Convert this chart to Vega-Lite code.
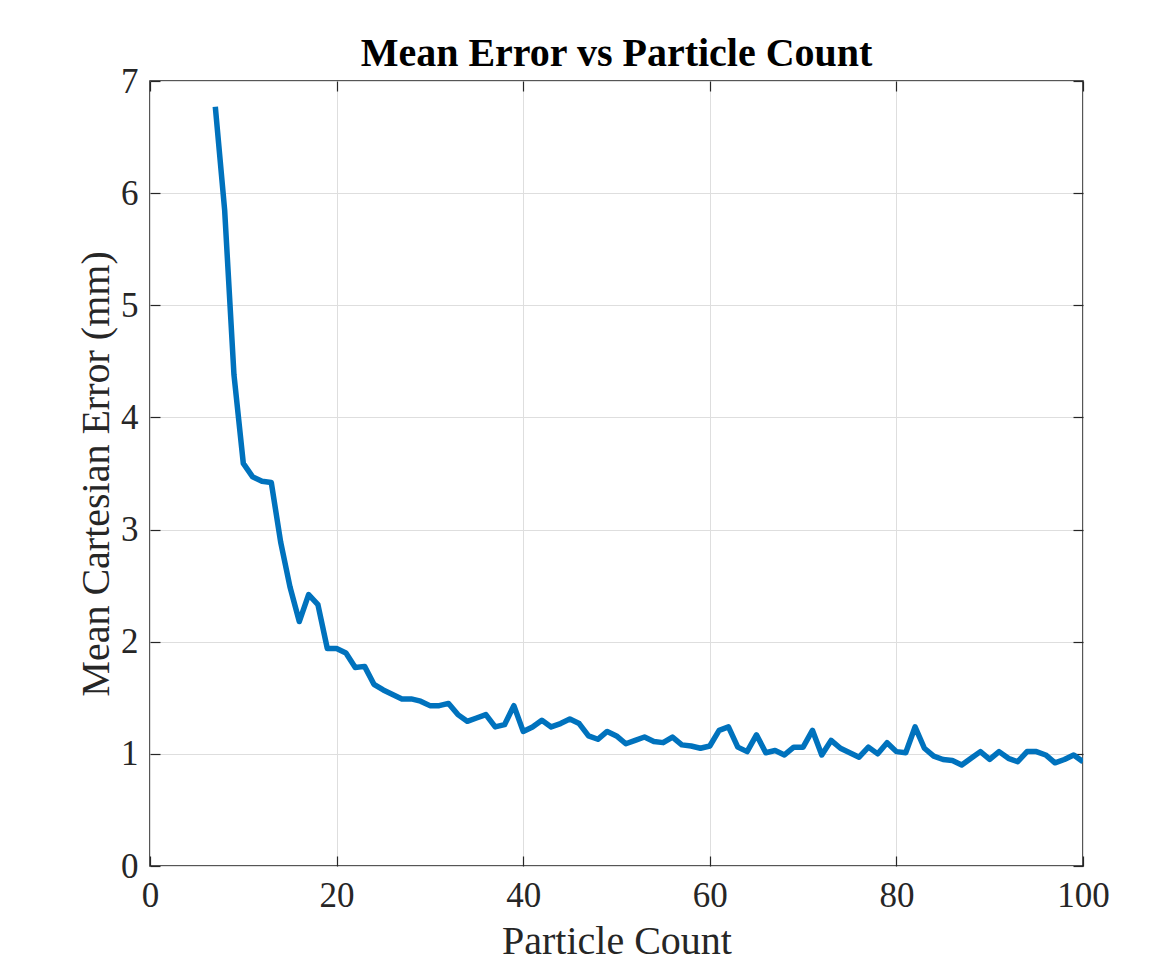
{
  "$schema": "https://vega.github.io/schema/vega-lite/v6.json",
  "autosize": {"type": "none"},
  "padding": {"left": 150, "top": 81, "right": 71, "bottom": 92},
  "width": 933,
  "height": 785,
  "background": "#ffffff",
  "config": {
    "view": {"stroke": "#1f1f1f", "strokeWidth": 1.5},
    "font": "Liberation Serif"
  },
  "title": {
    "text": "Mean Error vs Particle Count",
    "font": "Liberation Serif",
    "fontSize": 40,
    "fontWeight": "bold",
    "color": "#000000",
    "anchor": "middle",
    "offset": -10
  },
  "data": {
    "values": [
      {"count": 7, "error": 6.77}, {"count": 8, "error": 5.85}, {"count": 9, "error": 4.38},
      {"count": 10, "error": 3.59}, {"count": 11, "error": 3.47}, {"count": 12, "error": 3.43},
      {"count": 13, "error": 3.42}, {"count": 14, "error": 2.89}, {"count": 15, "error": 2.49},
      {"count": 16, "error": 2.18}, {"count": 17, "error": 2.42}, {"count": 18, "error": 2.33},
      {"count": 19, "error": 1.94}, {"count": 20, "error": 1.94}, {"count": 21, "error": 1.90},
      {"count": 22, "error": 1.77}, {"count": 23, "error": 1.78}, {"count": 24, "error": 1.62},
      {"count": 25, "error": 1.57}, {"count": 26, "error": 1.53}, {"count": 27, "error": 1.49},
      {"count": 28, "error": 1.49}, {"count": 29, "error": 1.47}, {"count": 30, "error": 1.43},
      {"count": 31, "error": 1.43}, {"count": 32, "error": 1.45}, {"count": 33, "error": 1.35},
      {"count": 34, "error": 1.29}, {"count": 35, "error": 1.32}, {"count": 36, "error": 1.35},
      {"count": 37, "error": 1.24}, {"count": 38, "error": 1.26}, {"count": 39, "error": 1.43},
      {"count": 40, "error": 1.20}, {"count": 41, "error": 1.24}, {"count": 42, "error": 1.30},
      {"count": 43, "error": 1.24}, {"count": 44, "error": 1.27}, {"count": 45, "error": 1.31},
      {"count": 46, "error": 1.27}, {"count": 47, "error": 1.16}, {"count": 48, "error": 1.13},
      {"count": 49, "error": 1.20}, {"count": 50, "error": 1.16}, {"count": 51, "error": 1.09},
      {"count": 52, "error": 1.12}, {"count": 53, "error": 1.15}, {"count": 54, "error": 1.11},
      {"count": 55, "error": 1.10}, {"count": 56, "error": 1.15}, {"count": 57, "error": 1.08},
      {"count": 58, "error": 1.07}, {"count": 59, "error": 1.05}, {"count": 60, "error": 1.07},
      {"count": 61, "error": 1.21}, {"count": 62, "error": 1.24}, {"count": 63, "error": 1.06},
      {"count": 64, "error": 1.02}, {"count": 65, "error": 1.17}, {"count": 66, "error": 1.01},
      {"count": 67, "error": 1.03}, {"count": 68, "error": 0.99}, {"count": 69, "error": 1.06},
      {"count": 70, "error": 1.06}, {"count": 71, "error": 1.21}, {"count": 72, "error": 0.99},
      {"count": 73, "error": 1.12}, {"count": 74, "error": 1.05}, {"count": 75, "error": 1.01},
      {"count": 76, "error": 0.97}, {"count": 77, "error": 1.06}, {"count": 78, "error": 1.00},
      {"count": 79, "error": 1.10}, {"count": 80, "error": 1.02}, {"count": 81, "error": 1.01},
      {"count": 82, "error": 1.24}, {"count": 83, "error": 1.05}, {"count": 84, "error": 0.98},
      {"count": 85, "error": 0.95}, {"count": 86, "error": 0.94}, {"count": 87, "error": 0.90},
      {"count": 88, "error": 0.96}, {"count": 89, "error": 1.02}, {"count": 90, "error": 0.95},
      {"count": 91, "error": 1.02}, {"count": 92, "error": 0.96}, {"count": 93, "error": 0.93},
      {"count": 94, "error": 1.02}, {"count": 95, "error": 1.02}, {"count": 96, "error": 0.99},
      {"count": 97, "error": 0.92}, {"count": 98, "error": 0.95}, {"count": 99, "error": 0.99},
      {"count": 100, "error": 0.93}
    ]
  },
  "layer": [
    {
      "mark": {"type": "line", "color": "#0072BD", "strokeWidth": 5.5, "strokeJoin": "round", "strokeCap": "butt", "clip": true},
      "encoding": {
        "x": {
          "field": "count", "type": "quantitative",
          "scale": {"domain": [0, 100], "nice": false, "zero": false},
          "axis": {
            "orient": "bottom",
            "values": [0, 20, 40, 60, 80, 100],
            "title": "Particle Count",
            "titleFont": "Liberation Serif", "titleFontSize": 40, "titleFontWeight": "normal", "titleColor": "#262626",
            "titlePadding": 8,
            "labelFont": "Liberation Serif", "labelFontSize": 35, "labelColor": "#262626",
            "labelPadding": 22, "labelFlush": false,
            "tickSize": -10, "tickColor": "#262626", "tickWidth": 1.2,
            "domain": false,
            "grid": true, "gridColor": "#dedede", "gridWidth": 1
          }
        },
        "y": {
          "field": "error", "type": "quantitative",
          "scale": {"domain": [0, 7], "nice": false, "zero": false},
          "axis": {
            "orient": "left",
            "values": [0, 1, 2, 3, 4, 5, 6, 7],
            "title": "Mean Cartesian Error (mm)",
            "titleFont": "Liberation Serif", "titleFontSize": 40, "titleFontWeight": "normal", "titleColor": "#262626",
            "titlePadding": 4,
            "labelFont": "Liberation Serif", "labelFontSize": 35, "labelColor": "#262626",
            "labelPadding": 22, "labelFlush": false,
            "tickSize": -10, "tickColor": "#262626", "tickWidth": 1.2,
            "domain": false,
            "grid": true, "gridColor": "#dedede", "gridWidth": 1
          }
        }
      }
    },
    {
      "mark": {"type": "line", "strokeOpacity": 0},
      "encoding": {
        "x": {
          "field": "count", "type": "quantitative",
          "axis": {
            "orient": "top", "values": [0, 20, 40, 60, 80, 100], "title": null, "labels": false,
            "tickSize": -10, "tickColor": "#262626", "tickWidth": 1.2, "domain": false, "grid": false
          }
        },
        "y": {
          "field": "error", "type": "quantitative",
          "axis": {
            "orient": "right", "values": [0, 1, 2, 3, 4, 5, 6, 7], "title": null, "labels": false,
            "tickSize": -10, "tickColor": "#262626", "tickWidth": 1.2, "domain": false, "grid": false
          }
        }
      }
    }
  ],
  "resolve": {"axis": {"x": "independent", "y": "independent"}}
}
